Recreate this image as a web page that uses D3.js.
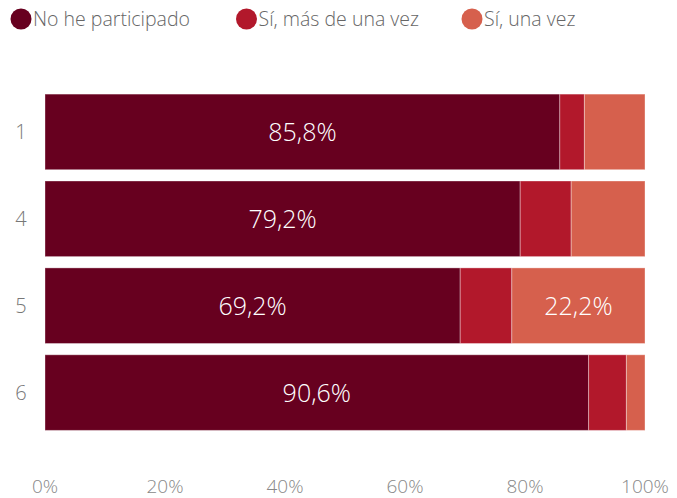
<html>
<head>
<meta charset="utf-8">
<script src="https://cdn.jsdelivr.net/npm/d3@7"></script>
<style>
  body { margin: 0; background: #fff; }
  text { font-family: "Segoe UI", "Open Sans", "Noto Sans", sans-serif; }
</style>
</head>
<body>
<script>
var width = 677, height = 498;

var categories = ["1", "4", "5", "6"];
var series = ["No he participado", "Sí, más de una vez", "Sí, una vez"];
var colors = ["#67001f", "#b2182b", "#d6604d"];
var noParticipado = [85.8, 79.2, 69.2, 90.6];
var masDeUnaVez = [4.1, 8.5, 8.6, 6.3];
var unaVez = [10.1, 12.3, 22.2, 3.1];
var ticks = [0, 20, 40, 60, 80, 100];

var rows = categories.map(function(c, i) {
  return { cat: c, vals: [noParticipado[i], masDeUnaVez[i], unaVez[i]] };
});

var svg = d3.select("body").append("svg")
  .attr("width", width)
  .attr("height", height);

var x = d3.scaleLinear().domain([0, 100]).range([45, 645]);
var y = d3.scaleBand().domain(categories).range([91.5, 433]).paddingInner(0.13).paddingOuter(0.03);

// legend
var legendX = [21, 246.5, 472];
var lg = svg.selectAll(".lg").data(series).enter().append("g")
  .attr("transform", function(d, i) { return "translate(" + legendX[i] + ",19)"; });
lg.append("circle").attr("r", 10.5).attr("fill", function(d, i) { return colors[i]; });
lg.append("text").attr("x", 12).attr("dy", "0.36em")
  .attr("font-size", 19.5).attr("font-weight", 300)
  .attr("fill", "#666").text(function(d) { return d; });

// bars
var g = svg.selectAll(".row").data(rows).enter().append("g")
  .attr("transform", function(d) { return "translate(0," + y(d.cat) + ")"; });

g.each(function(d) {
  var acc = 0;
  var segs = d.vals.map(function(v, i) {
    var s = { x0: acc, x1: acc + v, v: v, i: i };
    acc += v;
    return s;
  });
  var sel = d3.select(this);
  sel.selectAll("rect").data(segs).enter().append("rect")
    .attr("x", function(s) { return x(s.x0); })
    .attr("width", function(s) { return x(s.x1) - x(s.x0); })
    .attr("height", y.bandwidth())
    .attr("fill", function(s) { return colors[s.i]; })
    .attr("stroke", "rgba(255,255,255,0.35)")
    .attr("stroke-width", 1);
  sel.selectAll(".val").data(segs.filter(function(s) { return s.v > 15; })).enter().append("text")
    .attr("x", function(s) { return (x(s.x0) + x(s.x1)) / 2; })
    .attr("y", y.bandwidth() / 2)
    .attr("dy", "0.36em")
    .attr("text-anchor", "middle")
    .attr("font-size", 25).attr("font-weight", 300)
    .attr("fill", "#fff")
    .text(function(s) { return s.v.toFixed(1).replace(".", ",") + "%"; });
});

// y labels
svg.selectAll(".ylab").data(categories).enter().append("text")
  .attr("x", 21).attr("y", function(d) { return y(d) + y.bandwidth() / 2; })
  .attr("dy", "0.36em").attr("text-anchor", "middle")
  .attr("font-size", 20).attr("font-weight", 300)
  .attr("fill", "#777").text(function(d) { return d; });

// x axis labels
svg.selectAll(".xlab").data(ticks).enter().append("text")
  .attr("x", function(d) { return x(d); }).attr("y", 493)
  .attr("text-anchor", "middle")
  .attr("font-size", 19).attr("font-weight", 300)
  .attr("fill", "#888").text(function(d) { return d + "%"; });
</script>
</body>
</html>
